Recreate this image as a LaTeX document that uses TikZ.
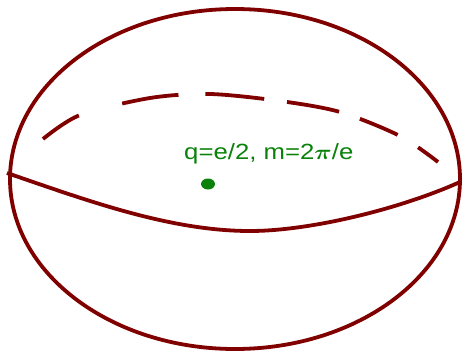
\documentclass[tikz,border=0pt]{standalone}
\usepackage{amsmath,amssymb}
\usepackage{fontspec}
\setsansfont{Liberation Sans}
\usepackage{tikz}
\usetikzlibrary{shapes.geometric}
\definecolor{shellred}{HTML}{800000}
\definecolor{dyongreen}{HTML}{0A820A}

\begin{document}
\begin{tikzpicture}[x=1pt,y=-1pt,line width=3.8pt]
  \useasboundingbox (0,0) rectangle (462,353);
  \draw[shellred] (235,179) ellipse [x radius=225, y radius=170];
  \draw[shellred] (7,173) .. controls (87,200.5) and (170,231) .. (250,231)
    .. controls (310,231) and (400,209) .. (460,182);
  \draw[shellred,dash pattern=on 43pt off 45pt on 57pt off 27pt on 59pt off 23pt on 53pt off 22pt on 41pt off 24pt on 30pt]
    plot[smooth] coordinates {(43,139) (80,115) (150,98) (210,94) (280,101) (340,112) (400,136) (438,162)};
  \node[dyongreen,font=\sffamily\fontsize{22}{26}\selectfont,xscale=1.17,transform shape,anchor=base west,inner sep=0pt]
    (dyonlabel) at (182,159) {q=e/2, m=2$\boldsymbol{\pi}$/e};
  \node[ellipse,fill=dyongreen,inner sep=0pt,minimum width=14pt,minimum height=11pt] (dyon) at (208,184) {};
\end{tikzpicture}
\end{document}
